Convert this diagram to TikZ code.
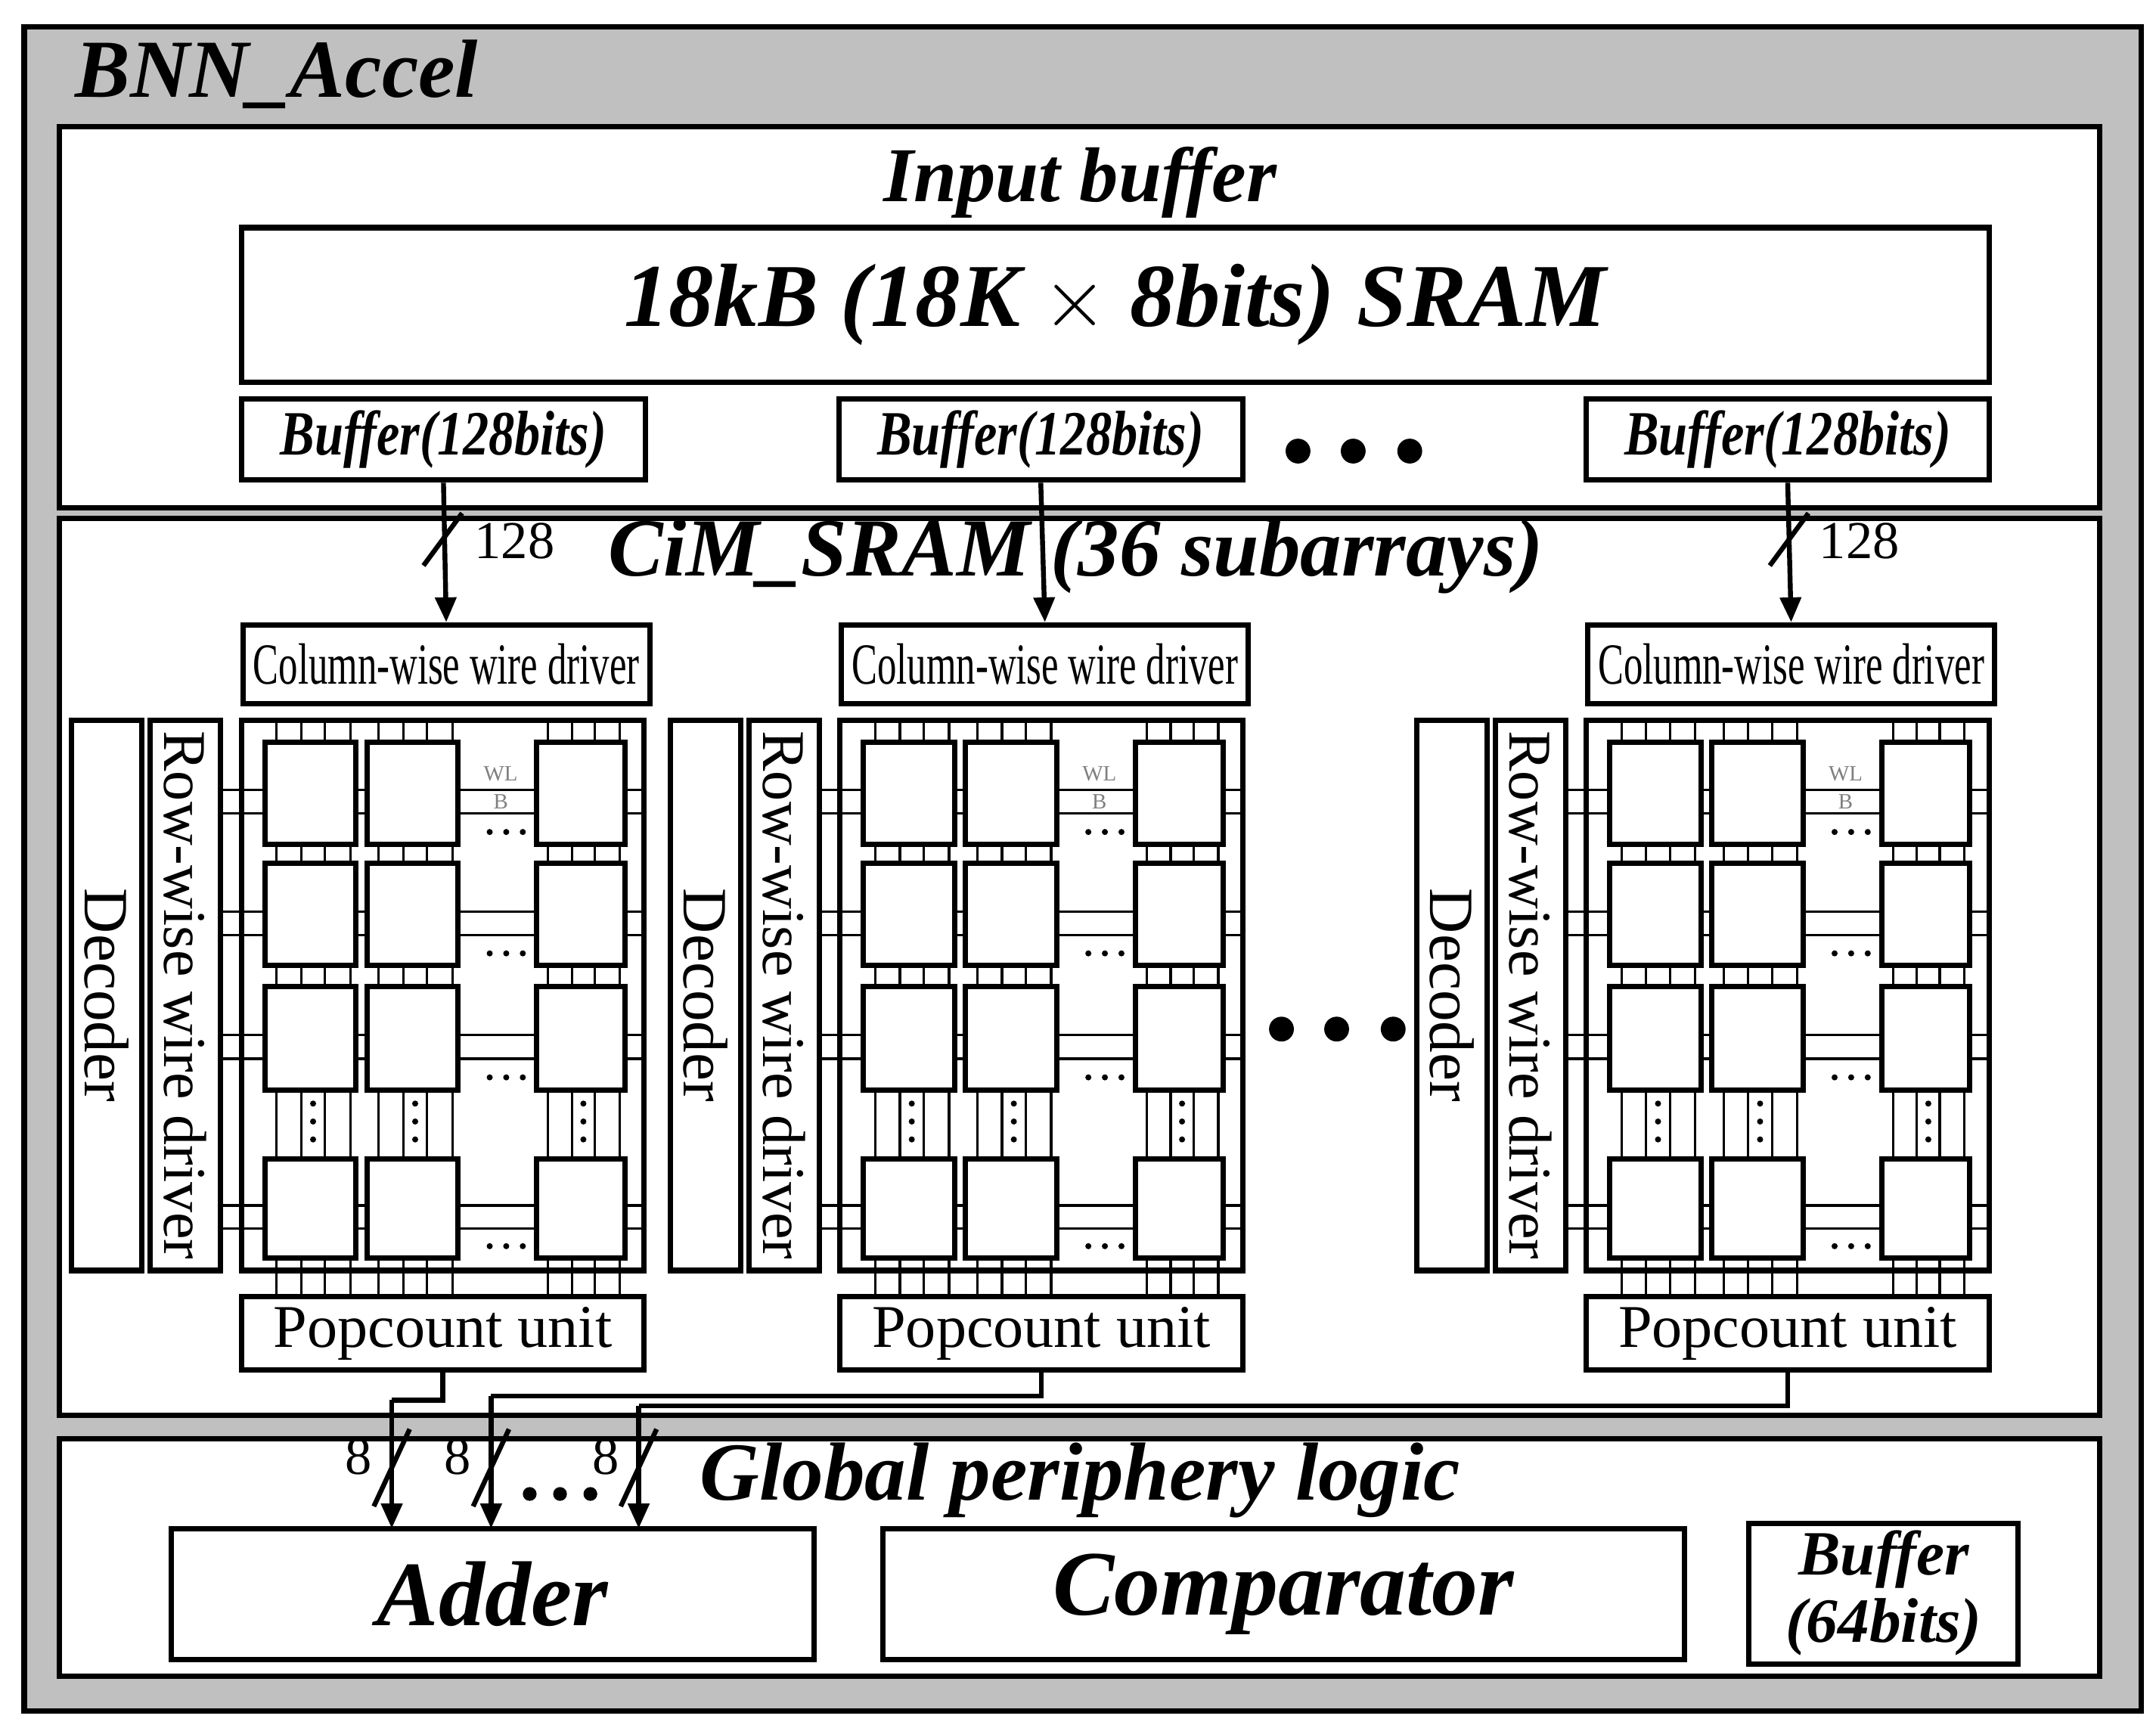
\documentclass[tikz,border=0pt]{standalone}
\usepackage{fontspec}
\setmainfont{Liberation Serif}
\usetikzlibrary{arrows.meta}
\newcommand\bx[7]{\node[box,#7,minimum width={(#4-#2)*0.01cm},minimum height={(#5-#3)*0.01cm}] (#1) at ({(#2+#4)/2},{(#3+#5)/2}) {#6};}
\newcommand\rbx[6]{\node[box,rotate=-90,minimum height={(#4-#2)*0.01cm},minimum width={(#5-#3)*0.01cm}] (#1) at ({(#2+#4)/2},{(#3+#5)/2}) {#6};}
\begin{document}
\begin{tikzpicture}[x=0.01cm,y=-0.01cm,
  box/.style={draw,line width=1.1pt,fill=white,inner sep=0pt},
  thin/.style={line width=0.5pt},
  cell/.style={draw,line width=1.1pt,fill=white},
  arr/.style={line width=1pt,-{Triangle[width=0.15cm,length=0.18cm]}},
  wire/.style={line width=1pt}]
\useasboundingbox (0,0) rectangle (1563,1250);
\fill[white] (0,0) rectangle (1563,1250);
\node[box,fill={rgb,255:red,192;green,192;blue,192},minimum width=15.34cm,minimum height=12.2cm] (outer) at (785,630) {};
\node[anchor=west,font=\fontsize{17}{20}\selectfont\bfseries\itshape] (title) at (42,54) {BNN\_Accel};
\bx{inbuf}{43}{92}{1522}{368}{}{}
\node[font=\fontsize{16}{19}\selectfont\bfseries\itshape] (inlbl) at (783,132) {Input buffer};
\bx{sram}{175}{165}{1442}{277}{\fontsize{18.5}{22}\selectfont\bfseries\itshape 18kB (18K $\times$ 8bits) SRAM}{}
\bx{buf1}{175}{289}{468}{348}{\scalebox{0.82}[1]{\fontsize{13}{15}\selectfont\bfseries\itshape Buffer(128bits)}}{}
\bx{buf2}{608}{289}{901}{348}{\scalebox{0.82}[1]{\fontsize{13}{15}\selectfont\bfseries\itshape Buffer(128bits)}}{}
\bx{buf3}{1150}{289}{1442}{348}{\scalebox{0.82}[1]{\fontsize{13}{15}\selectfont\bfseries\itshape Buffer(128bits)}}{}
\foreach \x in {941,981,1022} \fill (\x,327) circle (9);
\bx{cim}{43}{376}{1522}{1026}{}{}
\node[font=\fontsize{17}{20}\selectfont\bfseries\itshape] (cimlbl) at (780,403) {CiM\_SRAM (36 subarrays)};
\bx{glob}{43}{1043}{1522}{1215}{}{}
\node[font=\fontsize{17}{20}\selectfont\bfseries\itshape] (globlbl) at (783,1073) {Global periphery logic};
\bx{adder}{124}{1108}{590}{1203}{\fontsize{19}{22}\selectfont\bfseries\itshape Adder}{}
\bx{comp}{640}{1108}{1221}{1203}{\fontsize{19}{22}\selectfont\bfseries\itshape Comparator}{}
\bx{obuf}{1268}{1108}{1463}{1203}{\fontsize{13}{15}\selectfont\bfseries\itshape\begin{tabular}{@{}c@{}}Buffer\\[-1pt](64bits)\end{tabular}}{}
% subarrays
\foreach \i/\X in {1/175,2/609,3/1150}{
  \begin{scope}[shift={(\X,0)}]
  \bx{cd\i}{1}{453}{296}{510}{\scalebox{0.66}[1]{\fontsize{12}{14}\selectfont Column-wise wire driver}}{}
  \rbx{dec\i}{-123}{522}{-72}{921}{\fontsize{13}{15}\selectfont Decoder}
  \rbx{rwd\i}{-66}{522}{-15}{921}{\fontsize{12.5}{15}\selectfont Row-wise wire driver}
  \bx{arr\i}{0}{522}{292}{921}{}{}
  \bx{pc\i}{0}{940}{292}{993}{\fontsize{12.5}{15}\selectfont Popcount unit}{}
  % bit lines
  \foreach \cx/\cw in {17/66,91/66,214/64}{
    \foreach \f in {0.13,0.40,0.66,0.94}
      \draw[thin] ({\cx+\f*\cw},522) -- ({\cx+\f*\cw},940);
    \foreach \yy in {800,813,826} \fill ({\cx+0.53*\cw},\yy) circle (2.2);
  }
  % word lines
  \foreach \ry/\rh in {538/74,626/74,715/75,840/72}{
    \foreach \f in {0.47,0.70}
      \draw[thin] (-15,{\ry+\f*\rh}) -- (292,{\ry+\f*\rh});
    \foreach \xx in {180,192,204} \fill (\xx,{\ry+\rh*0.88}) circle (2.2);
  }
  \node[font=\fontsize{4.5}{5}\selectfont,text=gray] (wl\i) at (188,561) {WL};
  \node[font=\fontsize{4.5}{5}\selectfont,text=gray] (b\i) at (188,581) {B};
  % cells
  \foreach \cx/\cw in {17/66,91/66,214/64}
    \foreach \ry/\rh in {538/74,626/74,715/75,840/72}
      \draw[cell] (\cx,\ry) rectangle ++(\cw,\rh);
  \end{scope}
}
\foreach \x in {929,969,1010} \fill (\x,746) circle (9);
% input arrows
\draw[arr] (buf1.south) -- (cd1.north);
\draw[arr] (buf2.south) -- (cd2.north);
\draw[arr] (buf3.south) -- (cd3.north);
\draw[wire] (307,410) -- (335,372);
\draw[wire] (1283,410) -- (1311,372);
\node[font=\fontsize{11}{13}\selectfont] (n128a) at (373,392) {128};
\node[font=\fontsize{11}{13}\selectfont] (n128b) at (1348,392) {128};
% popcount to adder
\coordinate (k1) at (284,1015);
\coordinate (k2) at (356,1012);
\coordinate (k3) at (463,1019);
\coordinate (e1) at (284,1108);
\coordinate (e2) at (356,1108);
\coordinate (e3) at (463,1108);
\draw[wire] (pc1.south) |- (k1);
\draw[arr] (k1) -- (e1);
\draw[wire] (pc2.south) |- (k2);
\draw[arr] (k2) -- (e2);
\draw[wire] (pc3.south) |- (k3);
\draw[arr] (k3) -- (e3);
\foreach \x in {284,356,463}{
  \draw[wire] (\x-13,1092) -- (\x+13,1036);
  \node[font=\fontsize{11}{13}\selectfont] at (\x-24,1056) {8};
}
\foreach \x in {384,406,428} \fill (\x,1083) circle (5);
\end{tikzpicture}
\end{document}
